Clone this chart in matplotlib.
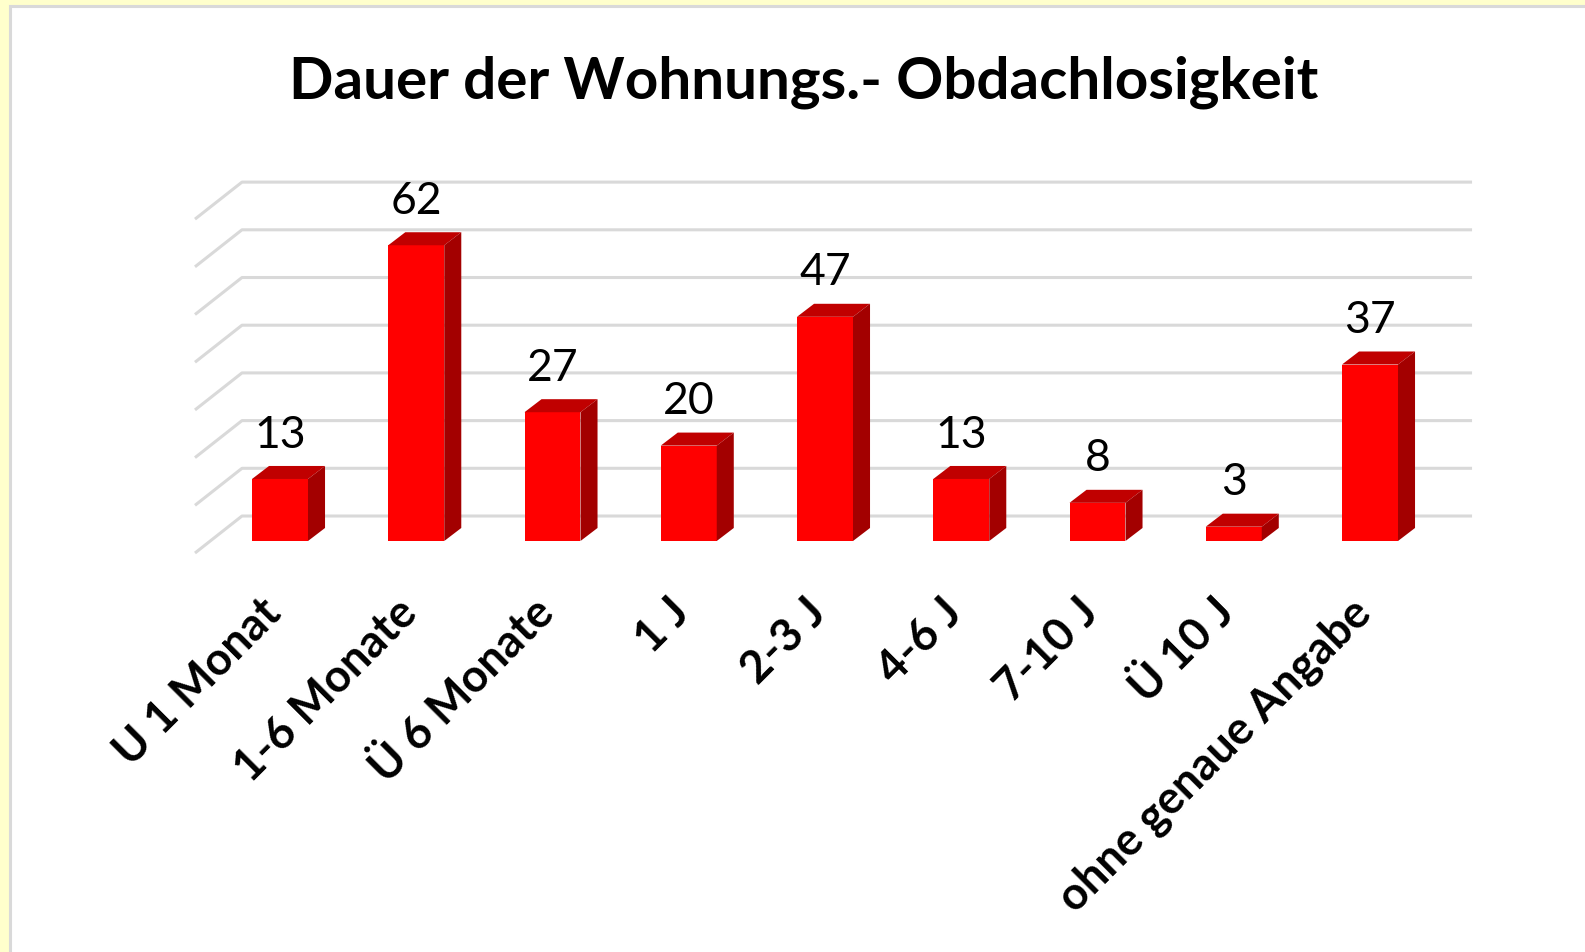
import numpy as np
import matplotlib as mpl
mpl.use('Agg')
import matplotlib.pyplot as plt
from matplotlib.patches import Rectangle, Polygon

# categories and counts
categories = ['U 1 Monat', '1-6 Monate', 'Ü 6 Monate', '1 J', '2-3 J', '4-6 J',
              '7-10 J', 'Ü 10 J', 'ohne genaue Angabe']
counts = [13, 62, 27, 20, 47, 13, 8, 3, 37]
grid_values = [0, 10, 20, 30, 40, 50, 60, 70]
title = 'Dauer der Wohnungs.- Obdachlosigkeit'

plt.rcParams['font.family'] = ['Lato', 'DejaVu Sans']

fig = plt.figure(figsize=(15.85, 9.53), dpi=100)
fig.patch.set_facecolor('#FFFFCC')

# white chart panel with thin grey frame
panel = Rectangle((10 / 1585, -0.05), 1.1, (953 - 7) / 953 + 0.05,
                  transform=fig.transFigure, facecolor='white',
                  edgecolor='#D9D9D9', linewidth=2.2, zorder=-10)
fig.patches.append(panel)

ax = fig.add_axes([143.75 / 1585, (953 - 589.7) / 953, 1362.5 / 1585, 429.3 / 953])
ax.set_xlim(-1, 9)
ax.set_ylim(-10, 80)
ax.axis('off')
ax.patch.set_alpha(0)

# 3d look: back wall sits above/right of the bar fronts, floor slants to the left
wall_dy = 5.24
floor_dx, floor_dy = -0.345, -7.76
half_w = 0.2055
depth_dx, depth_dy = 0.125, 2.73
wall_left, wall_right = -0.279, 8.749

for g in grid_values:
    y = g + wall_dy
    ax.plot([wall_left + floor_dx, wall_left, wall_right],
            [y + floor_dy, y, y], color='#D9D9D9', lw=2.2,
            solid_capstyle='butt', zorder=1)

for i, v in enumerate(counts):
    x0, x1 = i - half_w, i + half_w
    ax.add_patch(Rectangle((x0, 0), 2 * half_w, v, facecolor='#FF0000',
                           edgecolor='none', zorder=3))
    ax.add_patch(Polygon([(x0, v), (x1, v), (x1 + depth_dx, v + depth_dy),
                          (x0 + depth_dx, v + depth_dy)],
                         closed=True, facecolor='#C00000', edgecolor='none', zorder=3))
    ax.add_patch(Polygon([(x1, 0), (x1 + depth_dx, depth_dy),
                          (x1 + depth_dx, v + depth_dy), (x1, v)],
                         closed=True, facecolor='#A30000', edgecolor='none', zorder=3))
    ax.annotate(str(v), (i, v + depth_dy), xytext=(0, 14), textcoords='offset points',
                ha='center', va='baseline', fontsize=32, color='black', zorder=4)

    ax.text(i - 0.15, -10.3, categories[i], rotation=45, rotation_mode='anchor',
            ha='right', va='top', fontsize=32.5, fontweight='bold', clip_on=False)

fig.text(804 / 1585, 1 - 82 / 953, title, ha='center', va='center',
         fontsize=42, fontweight='bold')

fig.savefig('out.png', dpi=100, facecolor=fig.get_facecolor())
